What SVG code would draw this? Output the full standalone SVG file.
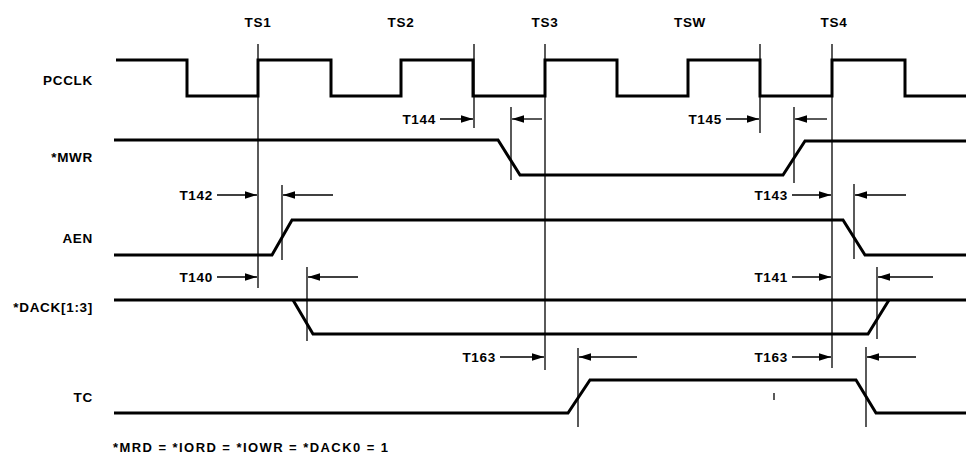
<svg xmlns="http://www.w3.org/2000/svg" width="966" height="460" viewBox="0 0 966 460">
<style>
.bg{fill:#fff}
.sig{fill:none;stroke:#000;stroke-width:3;stroke-linejoin:miter}
.ref{fill:none;stroke:#000;stroke-width:1.3}
.arr{fill:none;stroke:#000;stroke-width:1.3;marker-end:url(#ah)}
text{font-family:"Liberation Sans",Arial,sans-serif;font-weight:bold;font-size:13.5px;fill:#000;letter-spacing:0.7px}
.lbl{text-anchor:end}
.ts{text-anchor:middle}
.tm{text-anchor:end}
</style>
<defs>
<marker id="ah" markerUnits="userSpaceOnUse" markerWidth="13" markerHeight="8" refX="12" refY="3.75" orient="auto">
<path d="M0,0 L12,3.75 L0,7.5 z" fill="#000"/>
</marker>
</defs>
<rect class="bg" x="0" y="0" width="966" height="460"/>
<g id="headers">
<text class="ts" x="258" y="27">TS1</text>
<text class="ts" x="401" y="27">TS2</text>
<text class="ts" x="545" y="27">TS3</text>
<text class="ts" x="690" y="27">TSW</text>
<text class="ts" x="834" y="27">TS4</text>
</g>
<g id="PCCLK">
<text class="lbl" x="93" y="85">PCCLK</text>
<path class="sig" d="M116,60 H187 V96 H258 V60 H331 V96 H401 V60 H473 V96 H545 V60 H617 V96 H688 V60 H760 V96 H832 V60 H905 V96 H966"/>
</g>
<g id="MWR">
<text class="lbl" x="93" y="162">*MWR</text>
<path class="sig" d="M114,140 H498 L520,175 H783 L805,141 H966"/>
</g>
<g id="AEN">
<text class="lbl" x="93" y="243">AEN</text>
<path class="sig" d="M114,255 H272 L292,220 H843 L865,255 H966"/>
</g>
<g id="DACK">
<text class="lbl" x="93" y="312">*DACK[1:3]</text>
<path class="sig" d="M114,300 H966"/>
<path class="sig" d="M293,300 L313,334 H868 L889,300"/>
</g>
<g id="TC">
<text class="lbl" x="93" y="402">TC</text>
<path class="sig" d="M114,413 H568 L590,380 H856 L876,413 H966"/>
<path class="ref" d="M774,393 V400"/>
</g>
<g id="connectors">
<path class="ref" d="M258,44 V288"/>
<path class="ref" d="M474,44 V128"/>
<path class="ref" d="M545,44 V370"/>
<path class="ref" d="M760,44 V133"/>
<path class="ref" d="M832,44 V368"/>
<path class="ref" d="M511,107 V180"/>
<path class="ref" d="M794,107 V183"/>
<path class="ref" d="M282,185 V260"/>
<path class="ref" d="M854,184 V259"/>
<path class="ref" d="M307,267 V341"/>
<path class="ref" d="M877,267 V339"/>
<path class="ref" d="M578,348 V427"/>
<path class="ref" d="M866,347 V427"/>
<line class="arr" x1="440" y1="119" x2="473" y2="119"/>
<line class="arr" x1="542" y1="119" x2="512" y2="119"/>
<line class="arr" x1="726" y1="119" x2="759" y2="119"/>
<line class="arr" x1="827" y1="119" x2="795" y2="119"/>
<line class="arr" x1="217" y1="195" x2="257" y2="195"/>
<line class="arr" x1="333" y1="195" x2="283" y2="195"/>
<line class="arr" x1="792" y1="195" x2="831" y2="195"/>
<line class="arr" x1="906" y1="195" x2="855" y2="195"/>
<line class="arr" x1="217" y1="277" x2="257" y2="277"/>
<line class="arr" x1="358" y1="277" x2="308" y2="277"/>
<line class="arr" x1="792" y1="277" x2="831" y2="277"/>
<line class="arr" x1="933" y1="277" x2="878" y2="277"/>
<line class="arr" x1="500" y1="357" x2="544" y2="357"/>
<line class="arr" x1="637" y1="357" x2="579" y2="357"/>
<line class="arr" x1="792" y1="357" x2="831" y2="357"/>
<line class="arr" x1="916" y1="357" x2="867" y2="357"/>
</g>
<g id="timings">
<text class="tm" x="436" y="124">T144</text>
<text class="tm" x="722" y="124">T145</text>
<text class="tm" x="213" y="200">T142</text>
<text class="tm" x="788" y="200">T143</text>
<text class="tm" x="213" y="282">T140</text>
<text class="tm" x="788" y="282">T141</text>
<text class="tm" x="496" y="362">T163</text>
<text class="tm" x="788" y="362">T163</text>
</g>
<g id="footer">
<text x="113" y="452" textLength="275" lengthAdjust="spacing" style="font-size:13px;letter-spacing:0">*MRD = *IORD = *IOWR = *DACK0 = 1</text>
</g>
</svg>
